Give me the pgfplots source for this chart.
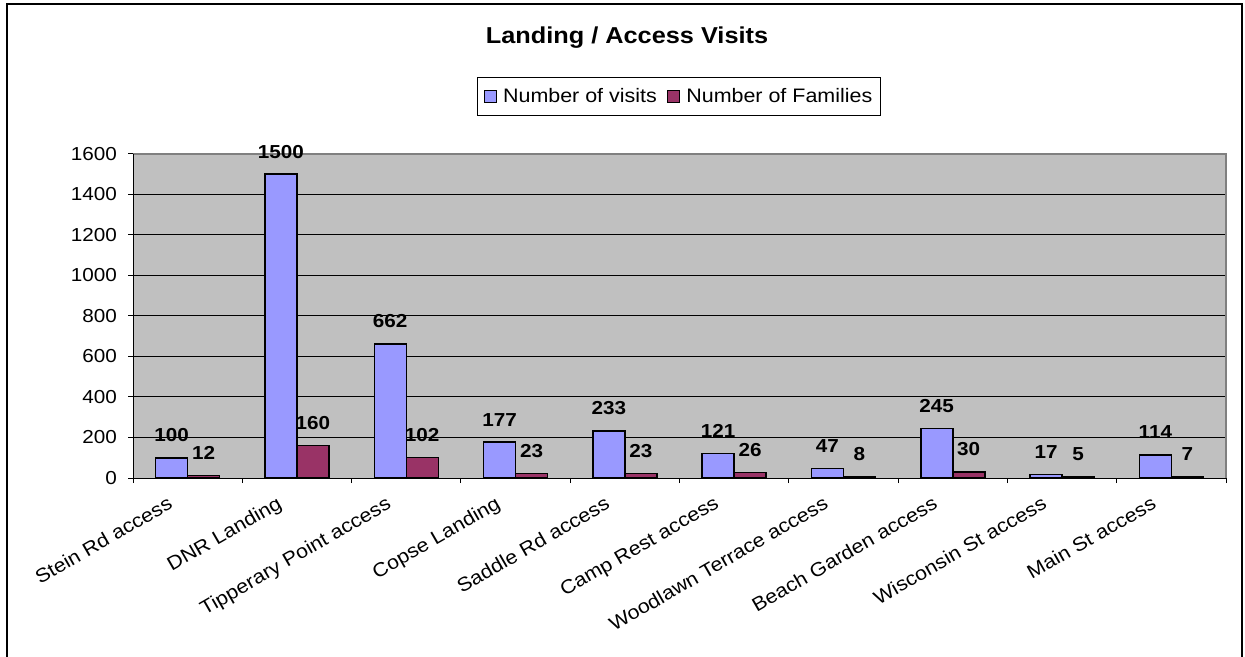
\documentclass[border=0pt]{standalone}
\usepackage{fontspec}
\setmainfont{Liberation Sans}[FakeStretch=1.1]
\usepackage{pgfplots}
\pgfplotsset{compat=1.18}
\definecolor{visits}{HTML}{9999FF}
\definecolor{fams}{HTML}{993366}
\definecolor{plotbg}{HTML}{C0C0C0}
\definecolor{framegray}{HTML}{808080}
\begin{document}
\begin{tikzpicture}
\useasboundingbox (0,0) rectangle (1245pt,656pt);
\draw[black, line width=2pt] (7pt,-5pt) -- (7pt,652pt) -- (1242pt,652pt) -- (1242pt,-5pt);
\node[anchor=base, font=\fontsize{23}{27}\selectfont\bfseries] at (627pt,612pt) {Landing / Access Visits};
\begin{axis}[
  at={(133pt,178pt)}, anchor=south west,
  scale only axis, width=1093pt, height=324pt,
  ybar=0pt, bar width=32pt,
  xmin=-0.5, xmax=9.5, ymin=0, ymax=1600,
  clip=false,
  ytick={0,200,...,1600},
  xtick={-0.5,0.5,...,9.5},
  xticklabels={,,,,,,,,,,},
  extra x ticks={0,1,2,3,4,5,6,7,8,9},
  extra x tick labels={Stein Rd access, DNR Landing, Tipperary Point access, Copse Landing, Saddle Rd access, Camp Rest access, Woodlawn Terrace access, Beach Garden access, Wisconsin St access, Main St access},
  extra x tick style={major tick length=0pt},
  tick align=outside, major tick length=5pt, tick pos=left,
  tick style={black, line width=1pt},
  ymajorgrids, grid style={black, line width=1pt},
  axis background/.style={fill=plotbg},
  axis line style={draw=none},
  /pgf/number format/1000 sep={},
  /pgf/number format/assume math mode=true,
  tick label style={font=\fontsize{18.8}{22}\selectfont},
  yticklabel style={inner sep=0pt, xshift=-11pt},
  xticklabel style={font=\fontsize{19.4}{22}\selectfont, inner sep=0pt, xshift=-21pt, yshift=-17pt, rotate=30, anchor=north east},
  nodes near coords,
  every node near coord/.append style={font=\fontsize{18.8}{22}\selectfont\bfseries, black, anchor=base, inner sep=0pt, yshift=16pt},
  legend columns=2,
  legend style={at={(0.4995,1.1775)}, anchor=center, draw=black, line width=1pt, fill=white,
    font=\fontsize{19.5}{23}\selectfont, inner xsep=6pt, inner ysep=9.5pt,
    /tikz/every even column/.append style={column sep=8pt}},
  legend image code/.code={\draw[#1,draw=black,line width=1pt] (0pt,-6pt) rectangle (12pt,6pt); \path[draw=none,fill=none] (0pt,0pt) -- (17pt,0pt);},
]
\addplot[fill=visits, draw=black, line width=1.5pt] coordinates {(0,100) (1,1500) (2,662) (3,177) (4,233) (5,121) (6,47) (7,245) (8,17) (9,114)};
\addplot[fill=fams, draw=black, line width=1.5pt] coordinates {(0,12) (1,160) (2,102) (3,23) (4,23) (5,26) (6,8) (7,30) (8,5) (9,7)};
\legend{Number of visits, Number of Families}
\draw[framegray, line width=2pt] (rel axis cs:0,1) -- (rel axis cs:1,1) -- (rel axis cs:1,0);
\draw[black, line width=1pt] (rel axis cs:0,1) -- (rel axis cs:0,0) -- (rel axis cs:1,0);
\end{axis}
\end{tikzpicture}
\end{document}
